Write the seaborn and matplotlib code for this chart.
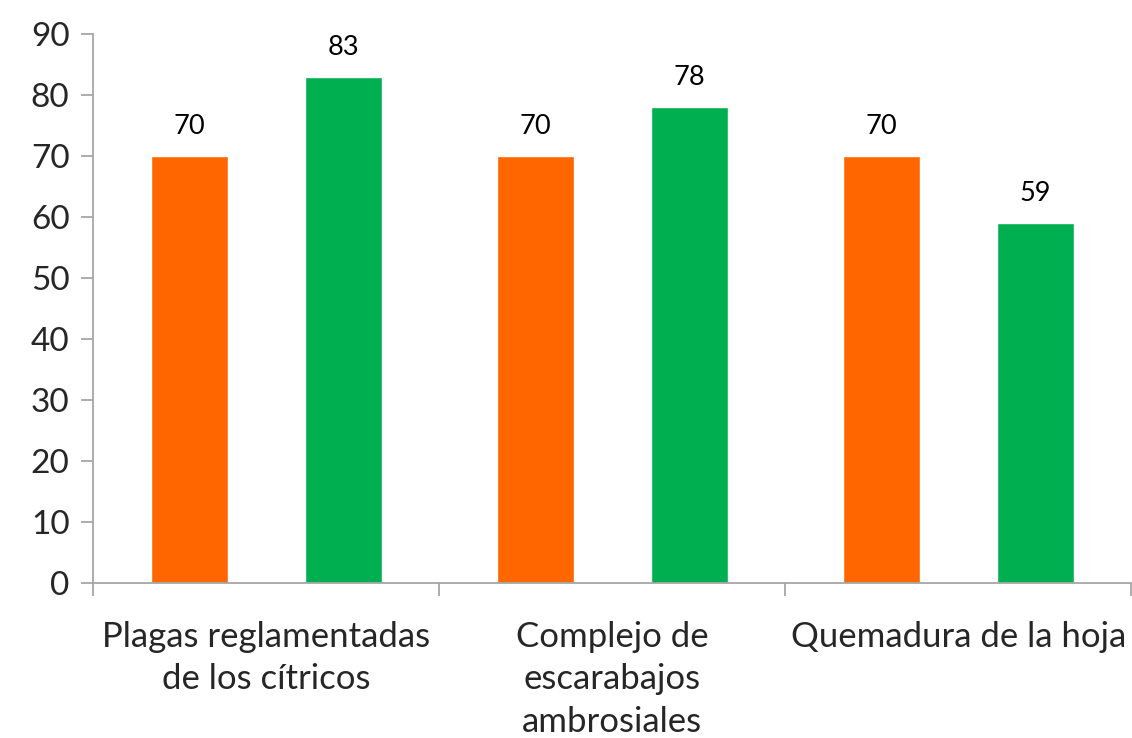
import pandas as pd
import matplotlib
matplotlib.use("Agg")
import matplotlib.pyplot as plt
import seaborn as sns

# Data
categorias = ["Plagas reglamentadas\nde los cítricos",
              "Complejo de\nescarabajos\nambrosiales",
              "Quemadura de la hoja"]
serie_1 = [70, 70, 70]
serie_2 = [83, 78, 59]
nombres_series = ["Serie 1", "Serie 2"]
colores = ["#FF6600", "#00B050"]
y_ticks = list(range(0, 100, 10))

df = pd.DataFrame({
    "categoria": categorias * 2,
    "valor": serie_1 + serie_2,
    "serie": [nombres_series[0]] * 3 + [nombres_series[1]] * 3,
})

sns.set_style("white")
plt.rcParams["font.family"] = ["Lato", "DejaVu Sans"]

fig = plt.figure(figsize=(11.32, 7.38), dpi=100)
ax = fig.add_axes([0.0822, 0.21, 0.9173, 0.744])

sns.barplot(data=df, x="categoria", y="valor", hue="serie",
            palette=colores, width=0.89, gap=0.5, legend=False,
            saturation=1, ax=ax)

for cont in ax.containers:
    ax.bar_label(cont, padding=12, fontsize=19.5, color="black")

ax.set_xlim(-0.5, 2.5)
ax.set_ylim(0, 90)
ax.set_yticks(y_ticks)
ax.tick_params(axis="y", labelsize=24, length=9, width=1.3, color="#A6A6A6",
               left=True, pad=8)

# category separators as minor ticks below the axis
ax.set_xticks([-0.5, 0.5, 1.5, 2.5], minor=True)
ax.tick_params(axis="x", which="minor", length=9, width=1.3,
               color="#A6A6A6", bottom=True)
ax.tick_params(axis="x", which="major", length=0, labelsize=25, pad=27)
for lbl in ax.get_xticklabels():
    lbl.set_linespacing(1.42)

ax.set_xlabel("")
ax.set_ylabel("")
for s in ["top", "right"]:
    ax.spines[s].set_visible(False)
for s in ["left", "bottom"]:
    ax.spines[s].set_color("#A6A6A6")
    ax.spines[s].set_linewidth(1.3)

fig.savefig("out.png", dpi=100)
